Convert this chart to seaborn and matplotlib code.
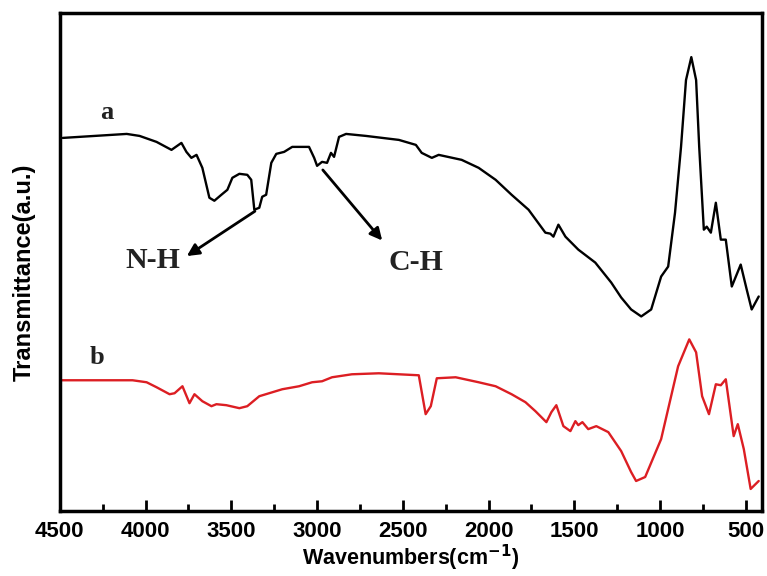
import numpy as np
import matplotlib
matplotlib.use("Agg")
import matplotlib.pyplot as plt
from matplotlib.ticker import MultipleLocator
import pandas as pd
import seaborn as sns

# curve a (black) - wavenumber, transmittance (arbitrary units)
wn_a = [4483, 4110, 4035, 3936, 3849, 3791, 3762, 3733, 3703, 3669, 3628, 3599, 3558,
        3523, 3494, 3453, 3407, 3384, 3366, 3337, 3320, 3297, 3267, 3238, 3192, 3145,
        3047, 3017, 3000, 2971, 2942, 2919, 2901, 2872, 2831, 2715, 2523, 2424, 2390,
        2331, 2291, 2157, 2058, 1959, 1866, 1767, 1669, 1640, 1622, 1593, 1552, 1477,
        1378, 1285, 1227, 1169, 1110, 1052, 994, 953, 913, 878, 849, 818, 790, 772,
        745, 728, 704, 675, 646, 617, 582, 530, 495, 466, 425]
tr_a = [374, 378, 376, 370, 362, 369, 360, 354, 357, 344, 314, 311, 317, 322, 334, 338,
        337, 332, 302, 304, 315, 317, 349, 358, 360, 365, 365, 354, 346, 350, 349, 359,
        355, 375, 378, 376, 372, 367, 359, 354, 357, 352, 344, 332, 317, 302, 279, 278,
        275, 287, 275, 262, 249, 229, 214, 202, 195, 202, 235, 245, 299, 365, 432, 455,
        432, 365, 282, 285, 279, 309, 272, 272, 225, 247, 222, 202, 215]

# curve b (red)
wn_b = [4488, 4076, 3994, 3936, 3860, 3831, 3785, 3744, 3715, 3669, 3616, 3587, 3529,
        3453, 3407, 3337, 3203, 3105, 3029, 2971, 2913, 2797, 2640, 2407, 2367, 2337,
        2302, 2192, 2058, 1959, 1866, 1785, 1727, 1663, 1634, 1605, 1564, 1523, 1494,
        1477, 1453, 1419, 1372, 1302, 1227, 1169, 1140, 1087, 994, 895, 830, 790, 755,
        715, 675, 646, 617, 571, 547, 512, 472, 425]
tr_b = [131, 131, 129, 124, 117, 118, 125, 108, 117, 110, 105, 107, 106, 103, 105, 115,
        122, 125, 129, 130, 134, 137, 138, 136, 97, 105, 133, 134, 129, 125, 117, 109,
        100, 89, 99, 106, 85, 80, 90, 86, 89, 82, 85, 79, 60, 39, 30, 34, 72, 145, 172,
        159, 115, 97, 127, 126, 132, 75, 87, 62, 22, 30]

df_a = pd.DataFrame({"wn": wn_a, "tr": tr_a})
df_b = pd.DataFrame({"wn": wn_b, "tr": tr_b})

sns.set_style("ticks")
plt.rcParams['font.family'] = ['Liberation Sans', 'DejaVu Sans']
plt.rcParams['axes.edgecolor'] = 'black'
plt.rcParams['xtick.color'] = 'black'
plt.rcParams['text.color'] = 'black'
plt.rcParams['axes.labelcolor'] = 'black'

fig = plt.figure(figsize=(7.67, 5.76), dpi=100)
ax = fig.add_axes([0.078, 0.113, 0.915, 0.864])

sns.lineplot(data=df_a, x="wn", y="tr", ax=ax, color="black", linewidth=1.7, sort=False)
sns.lineplot(data=df_b, x="wn", y="tr", ax=ax, color="#dc1e23", linewidth=1.7, sort=False)

ax.set_xlim(4500, 408)
ax.set_ylim(0, 499)
ax.xaxis.set_major_locator(MultipleLocator(500))
ax.xaxis.set_minor_locator(MultipleLocator(250))
ax.tick_params(axis='x', which='major', direction='in', length=8, width=2, labelsize=16, pad=7)
ax.tick_params(axis='x', which='minor', direction='in', length=5, width=2)
ax.set_yticks([])
for lbl in ax.get_xticklabels():
    lbl.set_fontweight('bold')
for sp in ax.spines.values():
    sp.set_linewidth(2.5)
    sp.set_visible(True)

ax.set_xlabel("Wavenumbers(cm$^{\\mathbf{-1}}$)", fontsize=15.5, fontweight='bold', labelpad=1)
ax.set_ylabel("Transmittance(a.u.)", fontsize=17, fontweight='bold', labelpad=4)
ax.yaxis.set_label_coords(-0.035, 0.48)

serif = dict(family=['Liberation Serif', 'DejaVu Serif'], fontweight='bold', color='#222222')
ax.text(4227, 399, "a", ha='center', va='center', fontsize=19, **serif)
ax.text(4285, 154, "b", ha='center', va='center', fontsize=19, **serif)

ax.annotate("", xy=(3773, 254), xytext=(3349, 302),
            arrowprops=dict(arrowstyle='-|>', color='black', lw=2, mutation_scale=18))
ax.annotate("", xy=(2610, 269), xytext=(2977, 344),
            arrowprops=dict(arrowstyle='-|>', color='black', lw=2, mutation_scale=18))
ax.text(3960, 251, "N-H", ha='center', va='center', fontsize=21.5, **serif)
ax.text(2424, 249, "C-H", ha='center', va='center', fontsize=21.5, **serif)

fig.savefig("out.png", dpi=100)
